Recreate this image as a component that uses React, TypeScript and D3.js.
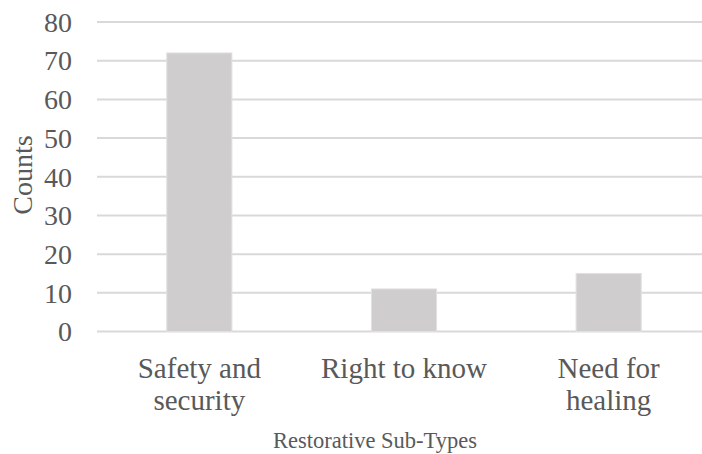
import React from "react";
import * as d3 from "d3";

const categories: string[][] = [["Safety and", "security"], ["Right to know"], ["Need for", "healing"]];
const categoryKeys = ["Safety and security", "Right to know", "Need for healing"];
const counts = [72, 11, 15];
const yTicks = [0, 10, 20, 30, 40, 50, 60, 70, 80];
const xTitle = "Restorative Sub-Types";
const yTitle = "Counts";

export default function App() {
  const W = 702, H = 454;
  const x = d3.scaleBand<string>().domain(categoryKeys).range([97, 711]).paddingInner(0.682).paddingOuter(0.341);
  const y = d3.scaleLinear().domain([0, 80]).range([331.5, 22]);
  const font = "'Liberation Serif', 'Times New Roman', serif";
  const textColor = "#595959";
  return (
    <svg width={W} height={H} style={{ position: "absolute", left: 0, top: 0, background: "#fff" }} fontFamily={font}>
      {yTicks.map((t) => (
        <g key={t}>
          <line x1={97} x2={W} y1={y(t)} y2={y(t)} stroke="#d9d9d9" strokeWidth={2} />
          <text x={72} y={y(t)} dy="0.35em" textAnchor="end" fontSize={28} fill={textColor}>{t}</text>
        </g>
      ))}
      {categoryKeys.map((c, i) => (
        <rect key={c} x={x(c)} y={y(counts[i])} width={x.bandwidth()} height={y(0) - y(counts[i])} fill="#cfcdce" stroke="#e2e0e1" strokeWidth={1} />
      ))}
      {categoryKeys.map((c, i) => (
        <text key={c} x={(x(c) as number) + x.bandwidth() / 2} textAnchor="middle" fontSize={29} fill={textColor}>
          {categories[i].map((line, j) => (
            <tspan key={j} x={(x(c) as number) + x.bandwidth() / 2} y={378 + j * 32}>{line}</tspan>
          ))}
        </text>
      ))}
      <text x={375} y={448} textAnchor="middle" fontSize={22.5} fill={textColor}>{xTitle}</text>
      <text transform={`translate(32,175) rotate(-90)`} textAnchor="middle" fontSize={28} fill={textColor}>{yTitle}</text>
    </svg>
  );
}
